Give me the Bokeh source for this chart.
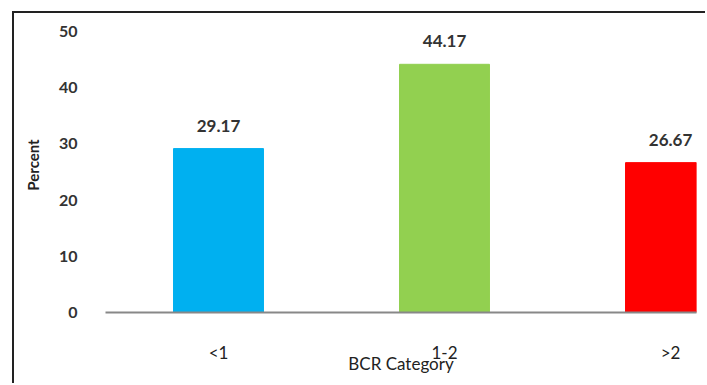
from bokeh.plotting import figure
from bokeh.models import ColumnDataSource, FixedTicker, Range1d
from bokeh.core.properties import value
from bokeh.embed import file_html
from bokeh.resources import INLINE

categories = ["<1", "1-2", ">2"]
percent = [29.17, 44.17, 26.67]
colors = ["#00B0F0", "#92D050", "#FF0000"]
labels = ["29.17", "44.17", "26.67"]
y_ticks = [0, 10, 20, 30, 40, 50]

xs = [i + 0.5 for i in range(len(categories))]
src = ColumnDataSource(dict(x=xs, top=percent, color=colors, label=labels))

p = figure(width=693, height=372, output_backend="svg", toolbar_location=None,
           x_range=Range1d(0, 2.615), y_range=Range1d(0, 52.5),
           min_border_left=91, min_border_right=11, min_border_top=4, min_border_bottom=73)
p.styles = {"margin-left": "12px", "margin-top": "11px",
            "border-left": "2px solid #222222", "border-top": "2px solid #222222"}
p.outline_line_color = None
p.xgrid.visible = False
p.ygrid.visible = False

p.vbar(x="x", top="top", width=0.398, bottom=0, color="color", source=src)
p.text(x="x", y="top", text="label", source=src, y_offset=-23,
       text_align="center", text_baseline="middle",
       text_font=value("Lato"), text_font_style="bold", text_font_size="17px",
       text_color="#333333")

p.yaxis.ticker = FixedTicker(ticks=y_ticks)
p.yaxis.axis_line_color = None
p.yaxis.major_tick_line_color = None
p.yaxis.minor_tick_line_color = None
p.yaxis.major_label_standoff = 22
p.yaxis.major_label_text_font = "Lato"
p.yaxis.major_label_text_font_style = "bold"
p.yaxis.major_label_text_font_size = "16px"
p.yaxis.major_label_text_color = "#333333"
p.yaxis.axis_label = "Percent"
p.yaxis.axis_label_text_font = "Lato"
p.yaxis.axis_label_text_font_style = "bold"
p.yaxis.axis_label_text_font_size = "15px"
p.yaxis.axis_label_text_color = "#222222"
p.yaxis.axis_label_standoff = 14

p.xaxis.ticker = FixedTicker(ticks=xs)
p.xaxis.major_label_overrides = {x: c for x, c in zip(xs, categories)}
p.xaxis.axis_line_color = "#888888"
p.xaxis.axis_line_width = 2
p.xaxis.major_tick_line_color = None
p.xaxis.minor_tick_line_color = None
p.xaxis.major_label_standoff = 23
p.xaxis.major_label_text_font = "Lato"
p.xaxis.major_label_text_font_style = "normal"
p.xaxis.major_label_text_font_size = "17px"
p.xaxis.major_label_text_color = "#222222"
p.xaxis.axis_label = "BCR Category"
p.xaxis.axis_label_text_font = "Lato"
p.xaxis.axis_label_text_font_style = "normal"
p.xaxis.axis_label_text_font_size = "17px"
p.xaxis.axis_label_text_color = "#222222"
p.xaxis.axis_label_standoff = -13

open("out.html", "w").write(file_html(p, INLINE))
